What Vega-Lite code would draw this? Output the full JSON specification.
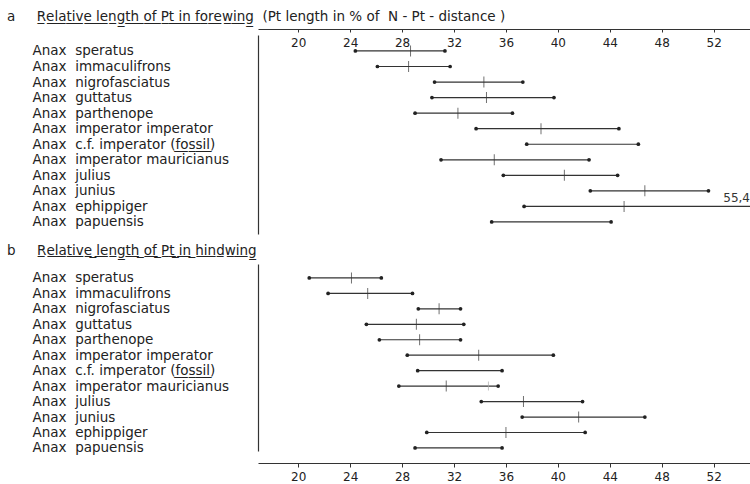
{
  "$schema": "https://vega.github.io/schema/vega-lite/v6.json",
  "background": "white",
  "padding": {"left": 7, "top": 10, "right": 0, "bottom": 0},
  "config": {
    "view": {"stroke": null},
    "font": "DejaVu Sans",
    "axis": {"grid": false, "title": null, "domainColor": "#333", "tickColor": "#333", "labelColor": "#222", "labelFont": "DejaVu Sans"},
    "title": {"fontWeight": "normal", "color": "#222", "font": "DejaVu Sans", "fontSize": 13.5, "anchor": "start", "frame": "bounds"}
  },
  "datasets": {
    "fore": [
      {"species": "Anax\u00a0\u00a0speratus", "min": 24.4, "mean": 28.65, "max": 31.3},
      {"species": "Anax\u00a0\u00a0immaculifrons", "min": 26.1, "mean": 28.5, "max": 31.7},
      {"species": "Anax\u00a0\u00a0nigrofasciatus", "min": 30.5, "mean": 34.3, "max": 37.3},
      {"species": "Anax\u00a0\u00a0guttatus", "min": 30.3, "mean": 34.5, "max": 39.7},
      {"species": "Anax\u00a0\u00a0parthenope", "min": 29.0, "mean": 32.3, "max": 36.5},
      {"species": "Anax\u00a0\u00a0imperator\u00a0imperator", "min": 33.7, "mean": 38.7, "max": 44.7},
      {"species": "Anax\u00a0\u00a0c.f.\u00a0imperator\u00a0(f\u0332o\u0332s\u0332s\u0332i\u0332l\u0332)", "min": 37.6, "mean": null, "max": 46.2},
      {"species": "Anax\u00a0\u00a0imperator\u00a0mauricianus", "min": 31.0, "mean": 35.1, "max": 42.4},
      {"species": "Anax\u00a0\u00a0julius", "min": 35.8, "mean": 40.5, "max": 44.6},
      {"species": "Anax\u00a0\u00a0junius", "min": 42.5, "mean": 46.7, "max": 51.6},
      {"species": "Anax\u00a0\u00a0ephippiger", "min": 37.4, "mean": 45.1, "max": 55.4, "note": "55,4"},
      {"species": "Anax\u00a0\u00a0papuensis", "min": 34.9, "mean": null, "max": 44.1}
    ],
    "hind": [
      {"species": "Anax\u00a0\u00a0speratus", "min": 20.85, "mean": 24.1, "max": 26.4},
      {"species": "Anax\u00a0\u00a0immaculifrons", "min": 22.3, "mean": 25.35, "max": 28.8},
      {"species": "Anax\u00a0\u00a0nigrofasciatus", "min": 29.25, "mean": 30.85, "max": 32.5},
      {"species": "Anax\u00a0\u00a0guttatus", "min": 25.25, "mean": 29.1, "max": 32.75},
      {"species": "Anax\u00a0\u00a0parthenope", "min": 26.25, "mean": 29.35, "max": 32.5},
      {"species": "Anax\u00a0\u00a0imperator\u00a0imperator", "min": 28.4, "mean": 33.9, "max": 39.65},
      {"species": "Anax\u00a0\u00a0c.f.\u00a0imperator\u00a0(f\u0332o\u0332s\u0332s\u0332i\u0332l\u0332)", "min": 29.2, "mean": null, "max": 35.7},
      {"species": "Anax\u00a0\u00a0imperator\u00a0mauricianus", "min": 27.75, "mean": 31.4, "max": 35.4, "mean2": 34.65},
      {"species": "Anax\u00a0\u00a0julius", "min": 34.1, "mean": 37.35, "max": 41.9},
      {"species": "Anax\u00a0\u00a0junius", "min": 37.25, "mean": 41.6, "max": 46.7},
      {"species": "Anax\u00a0\u00a0ephippiger", "min": 29.9, "mean": 36.0, "max": 42.1},
      {"species": "Anax\u00a0\u00a0papuensis", "min": 29.0, "mean": null, "max": 35.7}
    ]
  },
  "spacing": 9,
  "vconcat": [
    {
      "width": 492,
      "height": 199,
      "data": {"name": "fore"},
      "title": {
        "text": "a\u00a0\u00a0\u00a0\u00a0\u00a0R\u0332e\u0332l\u0332a\u0332t\u0332i\u0332v\u0332e\u0332\u00a0\u0332l\u0332e\u0332n\u0332g\u0332t\u0332h\u0332\u00a0\u0332o\u0332f\u0332\u00a0\u0332P\u0332t\u0332\u00a0\u0332i\u0332n\u0332\u00a0\u0332f\u0332o\u0332r\u0332e\u0332w\u0332i\u0332n\u0332g\u0332\u00a0\u00a0(Pt\u00a0length\u00a0in\u00a0%\u00a0of\u00a0\u00a0N\u00a0-\u00a0Pt\u00a0-\u00a0distance\u00a0)",
        "dx": -25,
        "baseline": "alphabetic",
        "offset": -6
      },
      "encoding": {
        "y": {
          "field": "species", "type": "nominal", "sort": null,
          "scale": {"type": "point", "padding": 0.9, "align": 0.57},
          "axis": {"ticks": false, "labelAlign": "left", "labelPadding": 226, "labelFontSize": 13.5, "labelLimit": 0, "domainWidth": 1.2}
        }
      },
      "layer": [
        {
          "mark": {"type": "rule", "clip": true, "color": "#333", "strokeWidth": 1.2},
          "encoding": {
            "x": {
              "field": "min", "type": "quantitative",
              "scale": {"domain": [16.9, 54.8], "nice": false, "zero": false},
              "axis": {"orient": "top", "offset": 6, "values": [20, 24, 28, 32, 36, 40, 44, 48, 52], "tickSize": -3, "labelPadding": -5, "labelBaseline": "top", "labelFlush": false, "labelFontSize": 12, "domainWidth": 1.2}
            },
            "x2": {"field": "max"}
          }
        },
        {
          "mark": {"type": "point", "filled": true, "clip": true, "size": 14, "color": "#222", "opacity": 1},
          "encoding": {"x": {"field": "min", "type": "quantitative"}}
        },
        {
          "mark": {"type": "point", "filled": true, "clip": true, "size": 14, "color": "#222", "opacity": 1},
          "encoding": {"x": {"field": "max", "type": "quantitative"}}
        },
        {
          "transform": [{"filter": "isValid(datum.mean)"}],
          "mark": {"type": "tick", "color": "#333", "size": 11, "thickness": 1},
          "encoding": {"x": {"field": "mean", "type": "quantitative"}}
        },
        {
          "transform": [{"filter": "isValid(datum.note)"}],
          "mark": {"type": "text", "align": "right", "baseline": "bottom", "dy": -1, "fontSize": 12, "color": "#333"},
          "encoding": {"x": {"datum": 54.8, "type": "quantitative"}, "text": {"field": "note"}}
        }
      ]
    },
    {
      "width": 492,
      "height": 187,
      "data": {"name": "hind"},
      "title": {
        "text": "b\u00a0\u00a0\u00a0\u00a0\u00a0R\u0332e\u0332l\u0332a\u0332t\u0332i\u0332v\u0332e\u0332\u00a0\u0332l\u0332e\u0332n\u0332g\u0332t\u0332h\u0332\u00a0\u0332o\u0332f\u0332\u00a0\u0332P\u0332t\u0332\u00a0\u0332i\u0332n\u0332\u00a0\u0332h\u0332i\u0332n\u0332d\u0332w\u0332i\u0332n\u0332g\u0332",
        "dx": -25,
        "baseline": "alphabetic",
        "offset": -4
      },
      "encoding": {
        "y": {
          "field": "species", "type": "nominal", "sort": null,
          "scale": {"type": "point", "padding": 0.55, "align": 0.82},
          "axis": {"ticks": false, "labelAlign": "left", "labelPadding": 226, "labelFontSize": 13.5, "labelLimit": 0, "domainWidth": 1.2}
        }
      },
      "layer": [
        {
          "mark": {"type": "rule", "clip": true, "color": "#333", "strokeWidth": 1.2},
          "encoding": {
            "x": {
              "field": "min", "type": "quantitative",
              "scale": {"domain": [16.9, 54.8], "nice": false, "zero": false},
              "axis": {"orient": "bottom", "offset": 12, "values": [20, 24, 28, 32, 36, 40, 44, 48, 52], "tickSize": 4, "labelPadding": 4, "labelFlush": false, "labelFontSize": 12, "domainWidth": 1.2}
            },
            "x2": {"field": "max"}
          }
        },
        {
          "mark": {"type": "point", "filled": true, "clip": true, "size": 14, "color": "#222", "opacity": 1},
          "encoding": {"x": {"field": "min", "type": "quantitative"}}
        },
        {
          "mark": {"type": "point", "filled": true, "clip": true, "size": 14, "color": "#222", "opacity": 1},
          "encoding": {"x": {"field": "max", "type": "quantitative"}}
        },
        {
          "transform": [{"filter": "isValid(datum.mean)"}],
          "mark": {"type": "tick", "color": "#333", "size": 11, "thickness": 1},
          "encoding": {"x": {"field": "mean", "type": "quantitative"}}
        },
        {
          "transform": [{"filter": "isValid(datum.mean2)"}],
          "mark": {"type": "tick", "color": "#aaa", "size": 9, "thickness": 1},
          "encoding": {"x": {"field": "mean2", "type": "quantitative"}}
        }
      ]
    }
  ]
}
